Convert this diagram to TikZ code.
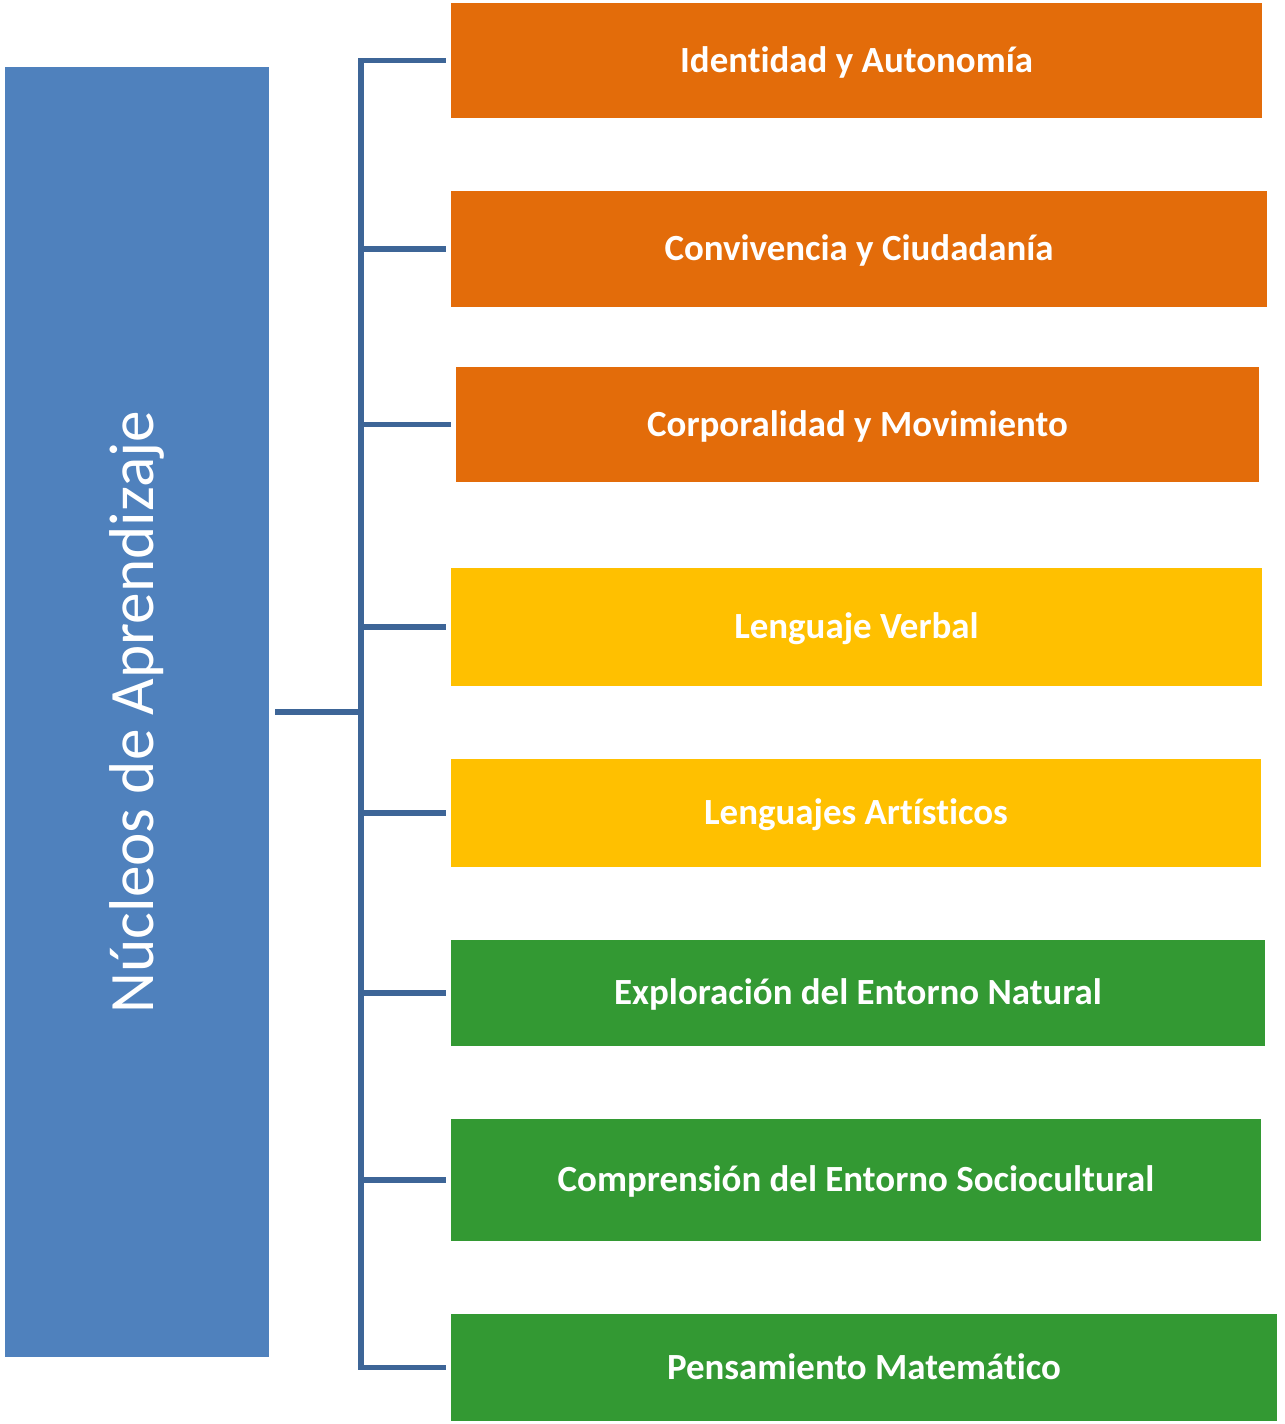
\documentclass[tikz,border=0pt]{standalone}
\usepackage{fontspec}
\setmainfont{Carlito}[Ligatures={NoCommon,TeX}]
\usepackage{tikz}
\usetikzlibrary{positioning}
\definecolor{azul}{HTML}{4F81BD}
\definecolor{azullinea}{HTML}{3D6597}
\definecolor{naranja}{HTML}{E36C0A}
\definecolor{amarillo}{HTML}{FFC000}
\definecolor{verde}{HTML}{339933}
\tikzstyle{nucleo} = [rectangle, minimum width=16.22cm, minimum height=2.3cm, text centered, text=white, font=\fontsize{21}{25}\selectfont\bfseries, inner sep=0pt, text depth=0.04cm]
\tikzstyle{rama} = [line width=3pt, draw=azullinea]

\begin{document}
\begin{tikzpicture}[x=0.02cm, y=-0.02cm]

  \useasboundingbox (0,0) rectangle (1285,1424);

  % left box
  \node[fill=azul, minimum width=5.28cm, minimum height=25.8cm, inner sep=0pt] (nucleos) at (137,712) {};
  \node[rotate=90, text=white, font=\fontsize{36}{42}\selectfont] (titulo) at (137,712) {Núcleos de Aprendizaje};

  % the eight boxes
  \node[nucleo, fill=naranja] (identidad) at (856.5,60.5) {Identidad y Autonomía};
  \node[nucleo, fill=naranja, minimum width=16.32cm, minimum height=2.32cm] (convivencia) at (859,249) {Convivencia y Ciudadanía};
  \node[nucleo, fill=naranja, minimum width=16.06cm] (corporalidad) at (857.5,424.5) {Corporalidad y Movimiento};
  \node[nucleo, fill=amarillo, minimum height=2.36cm] (verbal) at (856.5,627) {Lenguaje Verbal};
  \node[nucleo, fill=amarillo, minimum width=16.2cm, minimum height=2.16cm] (artisticos) at (856,813) {Lenguajes Artísticos};
  \node[nucleo, fill=verde, minimum width=16.28cm, minimum height=2.12cm] (exploracion) at (858,993) {Exploración del Entorno Natural};
  \node[nucleo, fill=verde, minimum width=16.2cm, minimum height=2.44cm] (comprension) at (856,1180) {Comprensión del Entorno Sociocultural};
  \node[nucleo, fill=verde, minimum width=16.52cm, minimum height=2.14cm] (pensamiento) at (864,1367.5) {Pensamiento Matemático};

  % bracket
  \coordinate (espina) at (361,712);
  \draw[rama] ([xshift=0.12cm]nucleos.east |- espina) -- (espina);
  \draw[rama, line cap=rect] (espina |- identidad.west) -- (espina |- pensamiento.west);
  \foreach \n in {identidad,convivencia,verbal,artisticos,exploracion,comprension,pensamiento}
    \draw[rama] (espina |- \n.west) -- ([xshift=-0.1cm]\n.west);
  \draw[rama] (espina |- corporalidad.west) -- ([xshift=-0.1cm]corporalidad.west);

\end{tikzpicture}
\end{document}
